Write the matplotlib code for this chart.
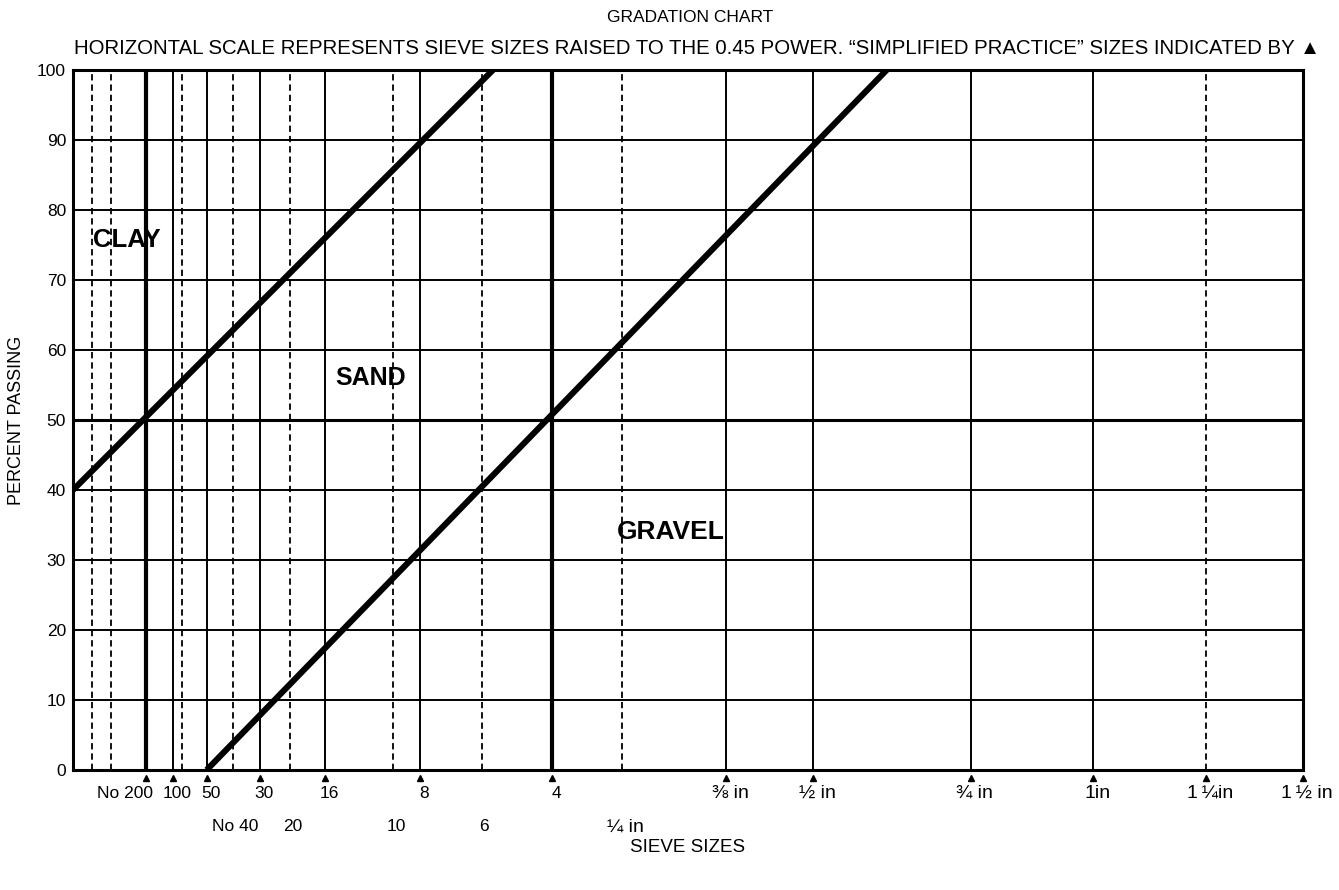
import numpy as np
import matplotlib
matplotlib.use('Agg')
import matplotlib.pyplot as plt

plt.rcParams['font.family'] = ['Liberation Sans', 'DejaVu Sans']

# sieve positions on the horizontal scale (sieve size in mm raised to 0.45, as drawn)
primary_labels = ['No 200', '100', '50', '30', '16', '8', '4',
                  '\u215c in', '\u00bd in', '\u00be in', '1in', '1\u2009\u00bcin', '1\u2009\u00bd in']
primary_pos = [0.303, 0.414, 0.555, 0.777, 1.047, 1.441, 1.990,
               2.712, 3.074, 3.728, 4.236, 4.707, 5.108]
secondary_labels = ['No 40', '20', '10', '6', '\u00bc in']
secondary_pos = [0.663, 0.901, 1.330, 1.697, 2.281]
unlabeled_pos = [0.078, 0.158, 0.451]

percent_ticks = [0, 10, 20, 30, 40, 50, 60, 70, 80, 90, 100]

# the two straight gradation lines
upper_x = [0.0, 1.744]
upper_y = [40, 100]
lower_x = [0.555, 3.379]
lower_y = [0, 100]

heavy = ['No 200', '4']
dashed_primary = ['1\u2009\u00bcin']

fig = plt.figure(figsize=(13.39, 8.90), dpi=100)
ax = fig.add_axes([73 / 1339, 120 / 890, 1230 / 1339, 700 / 890])

ax.set_xlim(0, primary_pos[-1])
ax.set_ylim(0, 100)

# horizontal grid
for p in percent_ticks[1:-1]:
    ax.axhline(p, color='black', lw=2.2 if p == 50 else 1.4, zorder=1)

# vertical sieve lines
for lab, x in zip(primary_labels, primary_pos):
    if x == primary_pos[-1]:
        continue
    if lab in dashed_primary:
        ax.axvline(x, color='black', lw=1.3, ls=(0, (3.5, 2.2)), zorder=1)
    else:
        ax.axvline(x, color='black', lw=3.0 if lab in heavy else 1.4, zorder=1)
for x in secondary_pos + unlabeled_pos:
    ax.axvline(x, color='black', lw=1.3, ls=(0, (3.5, 2.2)), zorder=1)

ax.plot(upper_x, upper_y, color='black', lw=4.4, solid_capstyle='butt', zorder=3)
ax.plot(lower_x, lower_y, color='black', lw=4.4, solid_capstyle='butt', zorder=3)

# "simplified practice" markers
ax.plot(primary_pos, [0] * len(primary_pos), ls='none', marker='^', ms=5,
        color='black', clip_on=False, zorder=4,
        transform=ax.transData + matplotlib.transforms.ScaledTranslation(0, -6 / 72, fig.dpi_scale_trans))

for s in ax.spines.values():
    s.set_linewidth(2.2)

ax.set_xticks([])
ax.set_yticks(percent_ticks)
ax.tick_params(axis='y', length=0, pad=5, labelsize=12.5)

for lab, x in zip(primary_labels, primary_pos):
    fs = 14 if 'in' in lab else 12.5
    if lab == 'No 200':
        ax.annotate(lab, xy=(x, 0), xycoords=('data', 'axes fraction'), xytext=(5, -17),
                    textcoords='offset points', ha='right', va='center', fontsize=fs)
    else:
        ax.annotate(lab, xy=(x, 0), xycoords=('data', 'axes fraction'), xytext=(3, -17),
                    textcoords='offset points', ha='center', va='center', fontsize=fs)
for lab, x in zip(secondary_labels, secondary_pos):
    fs = 14 if 'in' in lab else 12.5
    ax.annotate(lab, xy=(x, 0), xycoords=('data', 'axes fraction'), xytext=(2, -41),
                textcoords='offset points', ha='center', va='center', fontsize=fs)

ax.text(0.5, -0.111, 'SIEVE SIZES', transform=ax.transAxes, ha='center', va='center', fontsize=13.5)
ax.set_ylabel('PERCENT PASSING', fontsize=13, labelpad=9)

fig.text(690 / 1339, 1 - 18 / 890, 'GRADATION CHART', ha='center', va='center', fontsize=12.5)
fig.text(697 / 1339, 1 - 48 / 890,
         'HORIZONTAL SCALE REPRESENTS SIEVE SIZES RAISED TO THE 0.45 POWER. '
         '\u201cSIMPLIFIED PRACTICE\u201d SIZES INDICATED BY \u25b2',
         ha='center', va='center', fontsize=14.7)

ax.text(0.083, 75.7, 'CLAY', ha='left', va='center', fontsize=18.5, fontweight='bold', zorder=5)
ax.text(1.088, 56, 'SAND', ha='left', va='center', fontsize=18, fontweight='bold', zorder=5)
ax.text(2.259, 34, 'GRAVEL', ha='left', va='center', fontsize=19, fontweight='bold', zorder=5)

fig.savefig('out.png', dpi=100)
